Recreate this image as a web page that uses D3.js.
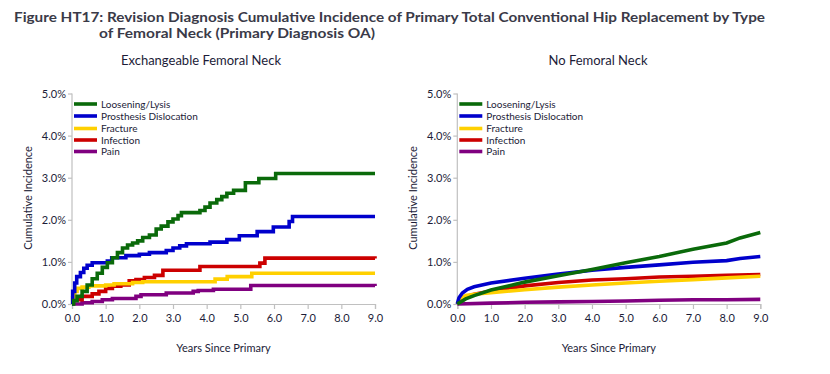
<!DOCTYPE html>
<html>
<head>
<meta charset="utf-8">
<script src="https://cdn.jsdelivr.net/npm/d3@7"></script>
<style>
  body { margin: 0; background: #fff; }
  text { font-family: Lato, "Liberation Sans", sans-serif; fill: #1c1c38; }
</style>
</head>
<body>
<div id="graph"></div>
<script>
// series names and colours
var series = ["Loosening/Lysis", "Prosthesis Dislocation", "Fracture", "Infection", "Pain"]
var colors = ["#0a6a0a", "#0000cc", "#ffd000", "#cc0000", "#800080"]

var yTicks = [0, 1, 2, 3, 4, 5]
var xTicks = [0, 1, 2, 3, 4, 5, 6, 7, 8, 9]

// Exchangeable Femoral Neck (step curves): [years, cumulative %]
var exLoosening = [[0,0],[0.05,0.08],[0.15,0.18],[0.3,0.3],[0.45,0.45],[0.6,0.6],[0.75,0.73],[0.9,0.87],[1.05,0.98],[1.2,1.1],[1.35,1.22],[1.5,1.33],[1.65,1.4],[1.8,1.45],[1.95,1.5],[2.1,1.58],[2.3,1.64],[2.5,1.78],[2.65,1.85],[2.85,1.95],[3.0,2.02],[3.15,2.1],[3.25,2.17],[3.8,2.22],[3.95,2.3],[4.1,2.4],[4.3,2.48],[4.45,2.55],[4.6,2.63],[4.8,2.7],[5.15,2.88],[5.55,2.98],[6.05,3.1],[9.0,3.1]]
var exDislocation = [[0,0],[0.02,0.3],[0.08,0.5],[0.14,0.65],[0.25,0.75],[0.35,0.85],[0.45,0.92],[0.6,0.98],[1.05,1.02],[1.18,1.1],[1.6,1.15],[2.0,1.18],[2.3,1.22],[2.8,1.27],[3.0,1.33],[3.2,1.38],[3.4,1.43],[4.1,1.47],[4.6,1.53],[4.97,1.62],[5.5,1.72],[5.98,1.83],[6.45,1.96],[6.55,2.08],[9.0,2.08]]
var exFracture = [[0,0],[0.02,0.15],[0.08,0.3],[0.15,0.37],[0.3,0.4],[0.5,0.43],[1.0,0.45],[1.25,0.48],[1.8,0.51],[2.1,0.53],[4.25,0.59],[4.61,0.65],[5.34,0.73],[9.0,0.73]]
var exInfection = [[0,0],[0.03,0.1],[0.3,0.18],[0.6,0.24],[0.8,0.3],[1.0,0.37],[1.2,0.42],[1.45,0.45],[1.7,0.55],[1.9,0.58],[2.15,0.63],[2.45,0.68],[2.7,0.8],[3.8,0.89],[5.58,0.97],[5.73,1.09],[9.0,1.08]]
var exPain = [[0,0],[0.3,0.03],[0.6,0.06],[0.9,0.1],[1.2,0.13],[1.9,0.18],[2.05,0.22],[2.8,0.26],[3.6,0.3],[3.75,0.32],[4.2,0.35],[5.31,0.44],[9.0,0.43]]

// No Femoral Neck
var nfLoosening = [[0,0],[0.25,0.12],[0.5,0.2],[1,0.33],[2,0.52],[3,0.67],[4,0.82],[5,0.98],[6,1.13],[7,1.3],[8,1.45],[8.4,1.57],[9,1.7]]
var nfDislocation = [[0,0],[0.05,0.15],[0.15,0.26],[0.3,0.35],[0.5,0.41],[1,0.5],[2,0.61],[3,0.71],[4,0.8],[5,0.87],[6,0.93],[7,0.99],[8,1.03],[8.4,1.08],[9,1.13]]
var nfFracture = [[0,0],[0.1,0.14],[0.25,0.2],[0.5,0.23],[1,0.27],[2,0.34],[3,0.4],[4,0.45],[5,0.5],[6,0.54],[7,0.58],[8,0.62],[9,0.66]]
var nfInfection = [[0,0],[0.1,0.1],[0.25,0.17],[0.5,0.23],[1,0.31],[2,0.43],[3,0.51],[4,0.57],[5,0.6],[6,0.64],[7,0.66],[8,0.68],[9,0.7]]
var nfPain = [[0,0],[1,0.02],[2,0.04],[3,0.05],[4,0.06],[5,0.07],[6,0.09],[7,0.1],[8,0.1],[9,0.11]]

var svg = d3.select("#graph").append("svg")
    .attr("width", 830)
    .attr("height", 374)

// Title
var title = svg.append("g").attr("font-weight", "bold")
title.append("text")
    .attr("x", 14).attr("y", 21.5)
    .attr("textLength", 751).attr("lengthAdjust", "spacingAndGlyphs")
    .style("font-size", "13px").style("fill", "#3a3a48")
    .text("Figure HT17: Revision Diagnosis Cumulative Incidence of Primary Total Conventional Hip Replacement by Type")
title.append("text")
    .attr("x", 99).attr("y", 38)
    .attr("textLength", 276).attr("lengthAdjust", "spacingAndGlyphs")
    .style("font-size", "13px").style("fill", "#3a3a48")
    .text("of Femoral Neck (Primary Diagnosis OA)")

function drawPanel(opt) {
    var x = d3.scaleLinear().domain([0, 9]).range([opt.left, opt.left + 303])
    var y = d3.scaleLinear().domain([0, 5]).range([304, 93.5])
    var g = svg.append("g")

    g.append("text")
        .attr("x", opt.titleX).attr("y", 65)
        .attr("text-anchor", "middle")
        .style("font-size", "13px")
        .text(opt.title)

    var xAxis = g.append("g")
        .attr("transform", "translate(0,304)")
        .call(d3.axisBottom(x).tickValues(xTicks).tickSize(5).tickPadding(5)
              .tickFormat(d3.format(".1f")))
    var yAxis = g.append("g")
        .attr("transform", "translate(" + opt.left + ",0)")
        .call(d3.axisLeft(y).tickValues(yTicks).tickSize(4).tickPadding(2)
              .tickFormat(function(d) { return d.toFixed(1) + "%" }))
    ;[xAxis, yAxis].forEach(function(a) {
        a.selectAll("path, line").attr("stroke", "#c0c0c0").attr("stroke-width", 1.2)
        a.selectAll("text").style("font-size", "11px").style("font-family", "Lato, sans-serif")
            .attr("fill", "#1c1c38")
    })
    yAxis.select(".domain").attr("d", "M0," + y(5) + "V" + y(0))

    g.append("text")
        .attr("x", opt.left + 151.5).attr("y", 352)
        .attr("text-anchor", "middle")
        .style("font-size", "11px")
        .text("Years Since Primary")
    g.append("text")
        .attr("transform", "translate(" + (opt.left - 40) + ",198) rotate(-90)")
        .attr("text-anchor", "middle")
        .style("font-size", "11px")
        .text("Cumulative Incidence")

    var line = d3.line()
        .x(function(d) { return x(d[0]) })
        .y(function(d) { return y(d[1]) })
        .curve(opt.curve)

    // draw back to front so green sits on top where they cross
    for (var i = opt.data.length - 1; i >= 0; i--) {
        g.append("path")
            .datum(opt.data[i])
            .attr("fill", "none")
            .attr("stroke", colors[i])
            .attr("stroke-width", 3.6)
            .attr("stroke-linejoin", "miter")
            .attr("d", line)
    }

    // legend
    var legend = g.append("g")
    series.forEach(function(s, i) {
        var ly = [104, 116, 128.5, 140, 151.5][i]
        legend.append("line")
            .attr("x1", opt.left + 2).attr("x2", opt.left + 25)
            .attr("y1", ly).attr("y2", ly)
            .attr("stroke", colors[i]).attr("stroke-width", 3.6)
        legend.append("text")
            .attr("x", opt.left + 29).attr("y", ly + 3.5)
            .style("font-size", "10px")
            .text(s)
    })
}

drawPanel({
    left: 72, titleX: 201, title: "Exchangeable Femoral Neck",
    curve: d3.curveStepAfter,
    data: [exLoosening, exDislocation, exFracture, exInfection, exPain]
})
drawPanel({
    left: 457.3, titleX: 598, title: "No Femoral Neck",
    curve: d3.curveLinear,
    data: [nfLoosening, nfDislocation, nfFracture, nfInfection, nfPain]
})
</script>
</body>
</html>
